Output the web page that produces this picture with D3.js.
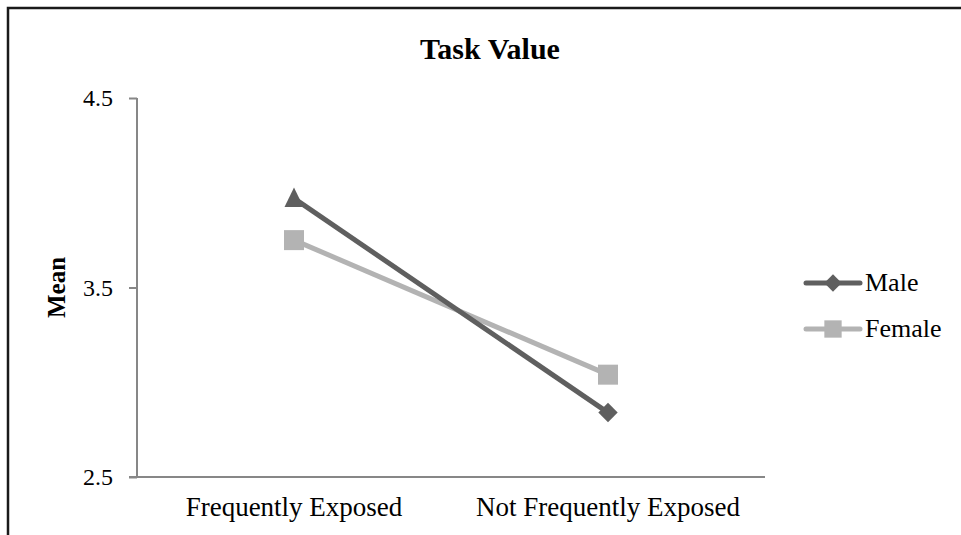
<!DOCTYPE html>
<html>
<head>
<meta charset="utf-8">
<script src="https://cdn.jsdelivr.net/npm/d3@7"></script>
<style>
  body { margin: 0; background: #fff; }
  text { font-family: "Liberation Serif", "Times New Roman", serif; fill: #000; }
</style>
</head>
<body>
<div id="chart"></div>
<script>
// chart values
const categories = ["Frequently Exposed", "Not Frequently Exposed"];
const maleValues = [3.97, 2.84];
const femaleValues = [3.75, 3.04];
const yTicks = [2.5, 3.5, 4.5];

const width = 961;
const height = 535;
const plot = { left: 137, right: 765, top: 98, bottom: 477 };

const svg = d3.select("#chart").append("svg")
  .attr("width", width)
  .attr("height", height);

// outer frame (runs off the right and bottom edges)
svg.append("rect")
  .attr("x", 8).attr("y", 8)
  .attr("width", 970).attr("height", 550)
  .attr("fill", "none")
  .attr("stroke", "#1a1a1a")
  .attr("stroke-width", 2.5);

const x = d3.scaleBand()
  .domain(categories)
  .range([plot.left, plot.right]);

const y = d3.scaleLinear()
  .domain([2.5, 4.5])
  .range([plot.bottom, plot.top]);

// title
svg.append("text")
  .attr("x", 490).attr("y", 59)
  .attr("text-anchor", "middle")
  .style("font-size", "30px")
  .style("font-weight", "bold")
  .text("Task Value");

// y axis
const yAxis = svg.append("g")
  .attr("transform", `translate(${plot.left},0)`)
  .call(d3.axisLeft(y).tickValues(yTicks).tickFormat(d3.format(".1f")).tickSize(8).tickPadding(16));
yAxis.select(".domain").attr("stroke", "#878787").attr("stroke-width", 2).attr("d", `M0,${plot.top}V${plot.bottom}`);
yAxis.selectAll(".tick line").attr("stroke", "#878787").attr("stroke-width", 2);
yAxis.selectAll(".tick text")
  .style("font-family", "Liberation Serif")
  .style("font-size", "24px")
  .attr("dy", "0.33em");

// x axis
const xAxis = svg.append("g")
  .attr("transform", `translate(0,${plot.bottom})`)
  .call(d3.axisBottom(x).tickSize(0).tickPadding(0));
xAxis.select(".domain").attr("stroke", "#878787").attr("stroke-width", 2).attr("d", `M${plot.left - 8},0H${plot.right}`);
xAxis.selectAll(".tick text")
  .style("font-family", "Liberation Serif")
  .style("font-size", "27px")
  .attr("dy", null)
  .attr("y", 39);

// y axis title
svg.append("text")
  .attr("transform", `translate(65,${(plot.top + plot.bottom) / 2}) rotate(-90)`)
  .attr("text-anchor", "middle")
  .style("font-size", "25px")
  .style("font-weight", "bold")
  .text("Mean");

const cx = d => x(d) + x.bandwidth() / 2;

const series = [
  { name: "Male", values: maleValues, color: "#5f5f5f" },
  { name: "Female", values: femaleValues, color: "#b3b3b3" }
];

const line = d3.line()
  .x((d, i) => cx(categories[i]))
  .y(d => y(d));

// draw Female first so Male sits on top
[series[1], series[0]].forEach(s => {
  svg.append("path")
    .datum(s.values)
    .attr("fill", "none")
    .attr("stroke", s.color)
    .attr("stroke-width", 5)
    .attr("d", line);
});

const markerFor = (name, i) => {
  if (name === "Female") return d3.symbol().type(d3.symbolSquare).size(400)();
  if (i === 0) return "M0,-11L9.5,8.5L-9.5,8.5Z";
  return d3.symbol().type(d3.symbolDiamond2).size(240)();
};

[series[1], series[0]].forEach(s => {
  svg.selectAll(null)
    .data(s.values)
    .enter()
    .append("path")
    .attr("d", (d, i) => markerFor(s.name, i))
    .attr("transform", (d, i) => `translate(${cx(categories[i])},${y(d)})`)
    .attr("fill", s.color);
});

// legend
const legend = svg.append("g").attr("transform", "translate(806,283)");
series.forEach((s, i) => {
  const g = legend.append("g").attr("transform", `translate(0,${i * 46})`);
  g.append("line")
    .attr("x1", 0).attr("x2", 54)
    .attr("stroke", s.color)
    .attr("stroke-width", 5)
    .attr("stroke-linecap", "round");
  g.append("path")
    .attr("d", s.name === "Male"
      ? d3.symbol().type(d3.symbolDiamond2).size(190)()
      : d3.symbol().type(d3.symbolSquare).size(300)())
    .attr("transform", "translate(27,0)")
    .attr("fill", s.color);
  g.append("text")
    .attr("x", 59).attr("y", 8)
    .style("font-size", "26px")
    .text(s.name);
});
</script>
</body>
</html>
